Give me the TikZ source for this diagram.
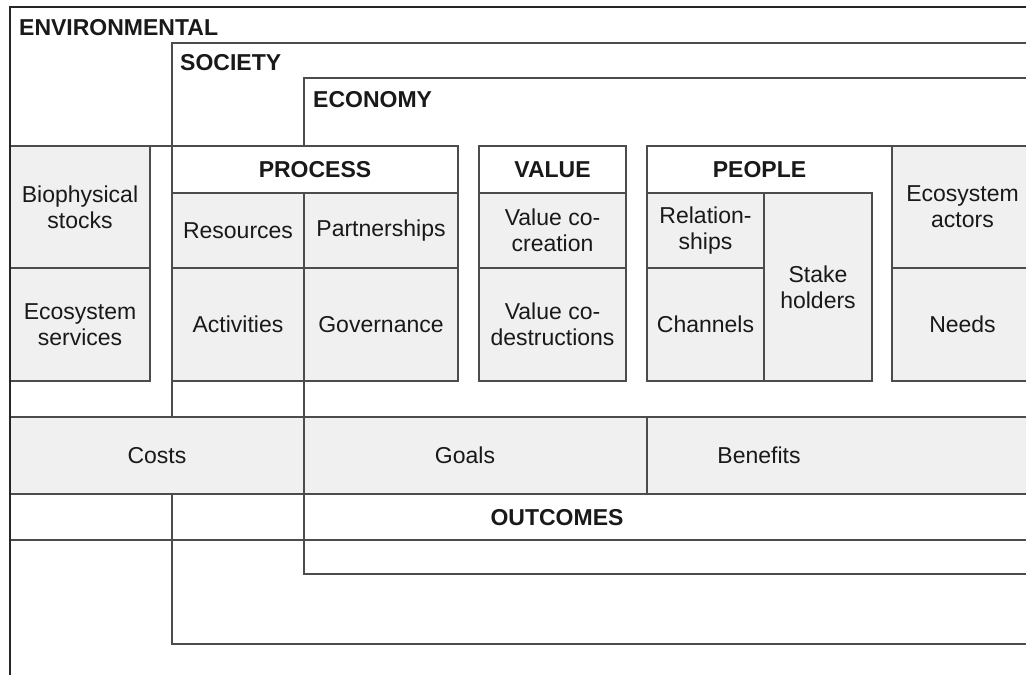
\documentclass[tikz,border=0pt]{standalone}
\usepackage{fontspec}
\setmainfont{Liberation Sans}
\usetikzlibrary{positioning}

\begin{document}
\begin{tikzpicture}[x=1pt,y=-1pt]\tikzset{every node/.style={font=\fontsize{23}{26}\selectfont, text=black!90, inner sep=0pt, align=center}, cell/.style={draw=black!70, fill=gray!12, line width=1.2pt}, blank/.style={draw=black!70, fill=white, line width=1.2pt}, head/.style={font=\fontsize{23}{26}\selectfont\bfseries}, frame/.style={draw=black!70, line width=1.2pt}}
	\clip (0,0) rectangle (1026,675);
	\fill[white] (0,0) rectangle (1026,675);
	\draw[frame] (10,146) -- (172,146);
	\draw[frame] (172,146) -- (172,43) -- (1040,43);
	\draw[frame] (304,146) -- (304,78) -- (1040,78);
	\draw[frame] (172,381) -- (172,417);
	\draw[frame] (304,381) -- (304,417);
	\draw[frame] (172,494) -- (172,644) -- (1040,644);
	\draw[frame] (304,494) -- (304,574) -- (1040,574);
	\draw[frame] (10,540) -- (1040,540);
	\node[head, anchor=west] (env) at (19,28) {ENVIRONMENTAL};
	\node[head, anchor=west] (soc) at (180,63) {SOCIETY};
	\node[head, anchor=west] (eco) at (313,100) {ECONOMY};
	\node[cell, minimum width=140, minimum height=122] (bio) at (80,207) {Biophysical\\stocks};
	\node[cell, minimum width=140, minimum height=113] (srv) at (80,324.5) {Ecosystem\\services};
	\node[blank, head, minimum width=286, minimum height=47] (proc) at (315,169.5) {PROCESS};
	\node[cell, minimum width=132, minimum height=75] (res) at (238,230.5) {Resources};
	\node[cell, minimum width=154, minimum height=75] (part) at (381,230.5) {Partnerships};
	\node[cell, minimum width=132, minimum height=113] (act) at (238,324.5) {Activities};
	\node[cell, minimum width=154, minimum height=113] (gov) at (381,324.5) {Governance};
	\node[blank, head, minimum width=147, minimum height=47] (val) at (552.5,169.5) {VALUE};
	\node[cell, minimum width=147, minimum height=75] (vcc) at (552.5,230.5) {Value co-\\creation};
	\node[cell, minimum width=147, minimum height=113] (vcd) at (552.5,324.5) {Value co-\\destructions};
	\draw[frame] (647,193) -- (647,146) -- (892,146);
	\node[head] (ppl) at (759.5,169.5) {PEOPLE};
	\node[cell, minimum width=117, minimum height=75] (rel) at (705.5,230.5) {Relation-\\ships};
	\node[cell, minimum width=117, minimum height=113] (chan) at (705.5,324.5) {Channels};
	\node[cell, minimum width=108, minimum height=188] (stk) at (818,287) {Stake\\holders};
	\node[cell, minimum width=141, minimum height=122] (act2) at (962.5,207) {Ecosystem\\actors};
	\node[cell, minimum width=141, minimum height=113] (need) at (962.5,324.5) {Needs};
	\node[cell, minimum width=294, minimum height=77] (cost) at (157,455.5) {Costs};
	\node[cell, minimum width=343, minimum height=77] (goal) at (475.5,455.5) {};
	\node[cell, minimum width=393, minimum height=77] (ben) at (843.5,455.5) {};
	\node (goaltxt) at (465,455.5) {Goals};
	\node (bentxt) at (759,455.5) {Benefits};
	\node[head] (out) at (557,518) {OUTCOMES};
	\draw[draw=black!85, line width=2pt] (10,676) -- (10,7) -- (1040,7);
\end{tikzpicture}
\end{document}
